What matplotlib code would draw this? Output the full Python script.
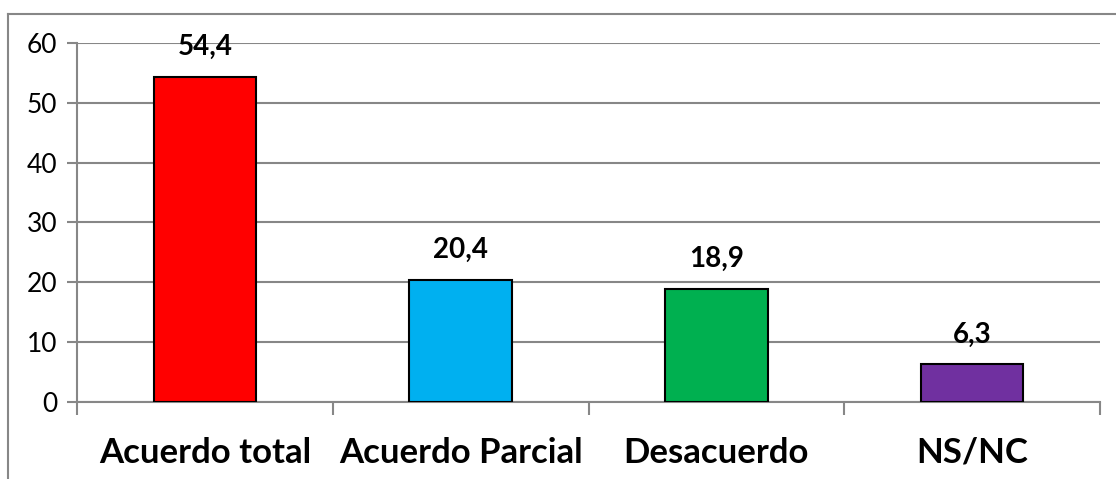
import matplotlib.pyplot as plt
from matplotlib.lines import Line2D

categorias = ["Acuerdo total", "Acuerdo Parcial", "Desacuerdo", "NS/NC"]
valores = [54.4, 20.4, 18.9, 6.3]
etiquetas = ["54,4", "20,4", "18,9", "6,3"]
colores = ["#FF0000", "#00B0F0", "#00B050", "#7030A0"]
yticks = [0, 10, 20, 30, 40, 50, 60]

plt.rcParams['font.family'] = ['Lato', 'DejaVu Sans']

fig = plt.figure(figsize=(11.16, 4.79), dpi=100)
ax = fig.add_axes([0.069, 0.1608, 0.9167, 0.7494])

x = range(len(categorias))
ax.bar(x, valores, width=0.4, color=colores, edgecolor="black", linewidth=1.5, zorder=3)
for xi, v, lab in zip(x, valores, etiquetas):
    ax.annotate(lab, (xi, v), xytext=(0, 12), textcoords="offset points",
                ha="center", va="bottom", fontsize=20, fontweight="bold")

ax.set_xlim(-0.5, len(categorias) - 0.5)
ax.set_ylim(0, 60)
ax.set_yticks(yticks)
ax.set_yticklabels([str(t) for t in yticks], fontsize=19)
ax.yaxis.grid(True, color="#878787", linewidth=1.5, zorder=0)
ax.tick_params(axis="y", length=7, width=1.5, color="#878787", pad=7)

# category ticks at boundaries, labels at centres
ax.set_xticks([i - 0.5 for i in range(len(categorias) + 1)])
ax.set_xticklabels([""] * (len(categorias) + 1))
ax.set_xticks(list(x), minor=True)
ax.set_xticklabels(categorias, minor=True, fontsize=25, fontweight="bold")
ax.tick_params(axis="x", which="major", length=9, width=1.5, color="#878787")
ax.tick_params(axis="x", which="minor", length=0, pad=25)

for s in ["top", "right"]:
    ax.spines[s].set_visible(False)
for s in ["left", "bottom"]:
    ax.spines[s].set_color("#878787")
    ax.spines[s].set_linewidth(1.5)

# outer chart frame (top and left only visible)
fig.add_artist(Line2D([8 / 1116, 1], [1 - 14 / 479] * 2, color="#878787", linewidth=1.5))
fig.add_artist(Line2D([8 / 1116] * 2, [0, 1 - 14 / 479], color="#878787", linewidth=1.5))

fig.savefig("out.png", dpi=100)
